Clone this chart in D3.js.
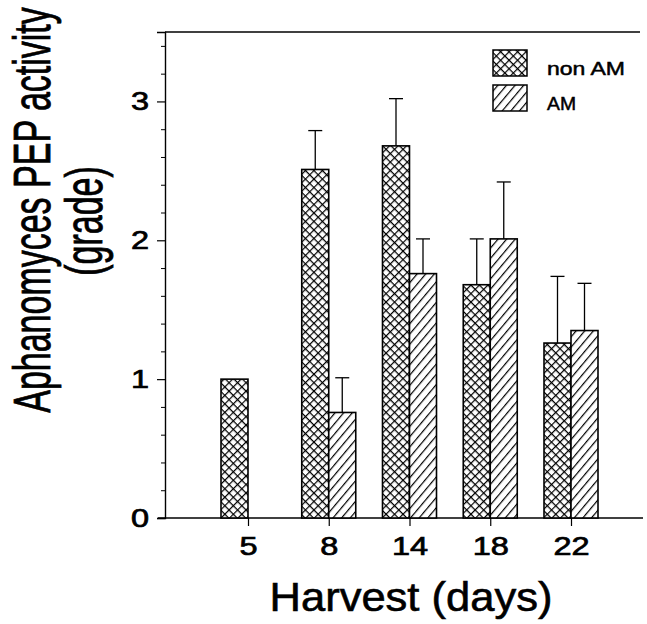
<!DOCTYPE html>
<html>
<head>
<meta charset="utf-8">
<script src="https://cdn.jsdelivr.net/npm/d3@7"></script>
<style>
  body { margin: 0; background: #fff; }
  text { font-family: "Liberation Sans", Arial, sans-serif; fill: #000; }
</style>
</head>
<body>
<svg id="chart" width="647" height="624"></svg>
<script>
// harvest days on the x axis
var days = ["5", "8", "14", "18", "22"];
// mean grade and top of error bar, non AM
var nonAM = [1.0, 2.51, 2.68, 1.68, 1.26];
var nonAMErr = [1.0, 2.79, 3.02, 2.01, 1.74];
// AM (no bar at day 5)
var am = [null, 0.76, 1.76, 2.01, 1.35];
var amErr = [null, 1.01, 2.01, 2.42, 1.69];
var yTicks = [0, 1, 2, 3];

var svg = d3.select("#chart");

var x = d3.scalePoint().domain(days).range([248, 571]);
var y = d3.scaleLinear().domain([0, 3.5]).range([518, 32]);
var barW = 27;

// hatch patterns
var defs = svg.append("defs");
var cross = defs.append("pattern")
  .attr("id", "cross").attr("patternUnits", "userSpaceOnUse")
  .attr("width", 6).attr("height", 6)
  .attr("patternTransform", "rotate(45)");
cross.append("rect").attr("width", 6).attr("height", 6).attr("fill", "#fff");
cross.append("path").attr("d", "M0,0V6M0,0H6")
  .attr("stroke", "#000").attr("stroke-width", 2.4);

var diag = defs.append("pattern")
  .attr("id", "diag").attr("patternUnits", "userSpaceOnUse")
  .attr("width", 6.6).attr("height", 6.6)
  .attr("patternTransform", "rotate(40)");
diag.append("rect").attr("width", 6.6).attr("height", 6.6).attr("fill", "#fff");
diag.append("path").attr("d", "M0,0V6.6")
  .attr("stroke", "#000").attr("stroke-width", 2.4);

// stretch text horizontally around its anchor
function widen(sel, sx){
  sel.each(function(){
    var t = d3.select(this);
    var tx = +t.attr("x") || 0;
    t.attr("x", 0).attr("transform", "translate(" + tx + ",0) scale(" + sx + ",1)");
  });
}

// y axis, major and minor ticks
var yAxis = svg.append("g").attr("transform", "translate(165,0)")
  .call(d3.axisLeft(y).tickValues(yTicks).tickSize(8).tickPadding(8).tickFormat(d3.format("d")));
yAxis.select(".domain").attr("stroke-width", 1.4);
yAxis.selectAll(".tick line").attr("stroke-width", 1.2);
yAxis.selectAll("text").attr("font-size", 25)
  .attr("font-family", "Liberation Sans, Arial, sans-serif")
  .attr("stroke", "#000").attr("stroke-width", 0.7);
widen(yAxis.selectAll("text"), 1.3);

var minor = d3.range(1, 18).map(function(i){ return i * 0.2; })
  .filter(function(v){ return Math.abs(v - Math.round(v)) > 0.01; });
svg.append("g").attr("transform", "translate(165,0)")
  .call(d3.axisLeft(y).tickValues(minor).tickSize(4).tickFormat(""))
  .call(function(g){ g.select(".domain").remove(); });

// x axis ticks
var xAxis = svg.append("g").attr("transform", "translate(0," + y(0) + ")")
  .call(d3.axisBottom(x).tickSize(8).tickPadding(11));
xAxis.select(".domain").remove();
xAxis.selectAll(".tick line").attr("stroke-width", 1.2);
xAxis.selectAll("text").attr("font-size", 25)
  .attr("font-family", "Liberation Sans, Arial, sans-serif")
  .attr("stroke", "#000").attr("stroke-width", 0.7);
widen(xAxis.selectAll("text"), 1.3);

// baseline and top frame line
svg.append("line").attr("x1", 158).attr("x2", 643)
  .attr("y1", y(0)).attr("y2", y(0)).attr("stroke", "#000").attr("stroke-width", 1.4);
svg.append("line").attr("x1", 165).attr("x2", 640)
  .attr("y1", y(3.5)).attr("y2", y(3.5)).attr("stroke", "#000").attr("stroke-width", 1.4);

// bars
var rows = days.map(function(d, i){
  return {day: d, non: nonAM[i], nonE: nonAMErr[i], am: am[i], amE: amErr[i]};
});

function drawSeries(key, errKey, offset, fill){
  var data = rows.filter(function(r){ return r[key] != null; });
  var g = svg.append("g");
  g.selectAll("line.err").data(data).enter().append("line")
    .attr("x1", function(r){ return x(r.day) + offset + barW / 2; })
    .attr("x2", function(r){ return x(r.day) + offset + barW / 2; })
    .attr("y1", function(r){ return y(r[key]); })
    .attr("y2", function(r){ return y(r[errKey]); })
    .attr("stroke", "#000").attr("stroke-width", 1.3);
  g.selectAll("line.cap").data(data.filter(function(r){ return r[errKey] > r[key]; }))
    .enter().append("line")
    .attr("x1", function(r){ return x(r.day) + offset + barW / 2 - 7; })
    .attr("x2", function(r){ return x(r.day) + offset + barW / 2 + 7; })
    .attr("y1", function(r){ return y(r[errKey]); })
    .attr("y2", function(r){ return y(r[errKey]); })
    .attr("stroke", "#000").attr("stroke-width", 1.3);
  g.selectAll("rect").data(data).enter().append("rect")
    .attr("x", function(r){ return x(r.day) + offset; })
    .attr("y", function(r){ return y(r[key]); })
    .attr("width", barW)
    .attr("height", function(r){ return y(0) - y(r[key]); })
    .attr("fill", fill).attr("stroke", "#000").attr("stroke-width", 1.6);
}
drawSeries("non", "nonE", -barW, "url(#cross)");
drawSeries("am", "amE", 0, "url(#diag)");

// legend
var legend = [{label: "non AM", fill: "url(#cross)", y: 50, w: 78},
              {label: "AM", fill: "url(#diag)", y: 85, w: 29}];
var lg = svg.append("g");
lg.selectAll("rect").data(legend).enter().append("rect")
  .attr("x", 493).attr("y", function(d){ return d.y; })
  .attr("width", 34).attr("height", 26)
  .attr("fill", function(d){ return d.fill; })
  .attr("stroke", "#000").attr("stroke-width", 1.5);
lg.selectAll("text").data(legend).enter().append("text")
  .attr("x", 547).attr("y", function(d){ return d.y + 25; })
  .attr("font-size", 19)
  .attr("stroke", "#000").attr("stroke-width", 0.5)
  .attr("textLength", function(d){ return d.w; })
  .attr("lengthAdjust", "spacingAndGlyphs")
  .text(function(d){ return d.label; });

// axis titles
svg.append("text").attr("x", 411).attr("y", 611)
  .attr("text-anchor", "middle").attr("font-size", 40)
  .attr("stroke", "#000").attr("stroke-width", 0.6)
  .attr("textLength", 283).attr("lengthAdjust", "spacingAndGlyphs")
  .text("Harvest (days)");

// y title: tall letters, drawn at 34px and stretched across
svg.append("text").attr("transform", "translate(50,210) rotate(-90) scale(1,1.5)")
  .attr("text-anchor", "middle").attr("font-size", 34)
  .attr("stroke", "#000").attr("stroke-width", 0.55)
  .text("Aphanomyces PEP activity");
svg.append("text").attr("transform", "translate(102,221) rotate(-90) scale(1,1.5)")
  .attr("text-anchor", "middle").attr("font-size", 34)
  .attr("stroke", "#000").attr("stroke-width", 0.55)
  .text("(grade)");
</script>
</body>
</html>
